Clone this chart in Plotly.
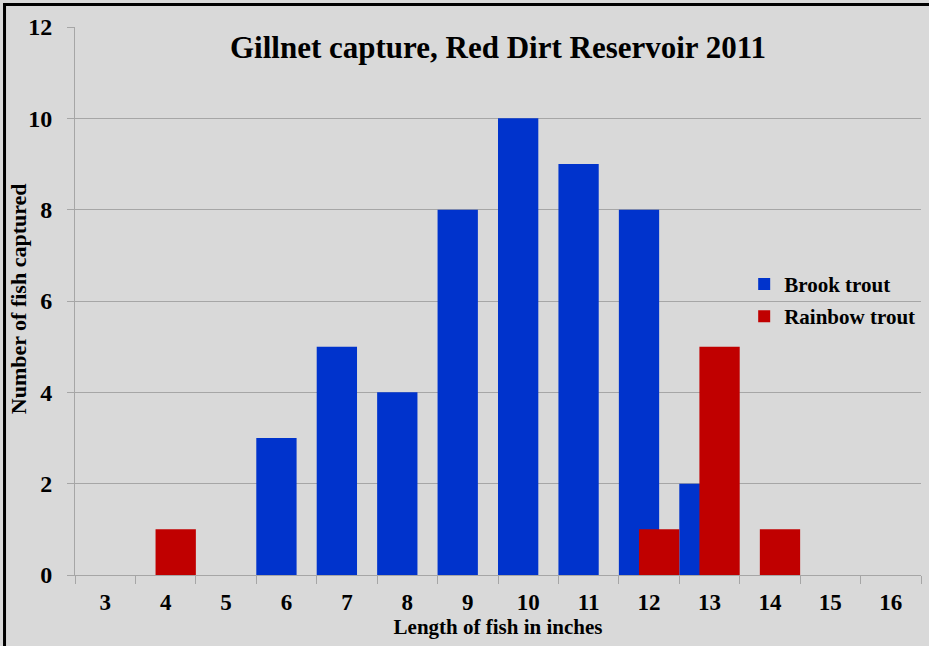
import plotly.graph_objects as go

lengths = ["3", "4", "5", "6", "7", "8", "9", "10", "11", "12", "13", "14", "15", "16"]
brook = [0, 0, 0, 3, 5, 4, 8, 10, 9, 8, 2, 0, 0, 0]
rainbow = [0, 1, 0, 0, 0, 0, 0, 0, 0, 1, 5, 1, 0, 0]

FONT = "Liberation Serif"
BG = "#d9d9d9"
GRID = "#a6a6a6"

fig = go.Figure()
fig.add_trace(go.Bar(
    x=lengths, y=brook, name="Brook trout",
    marker=dict(color="#0033cc", line=dict(width=0)),
    offset=-0.5, width=0.667, legendgroup="a",
))
fig.add_trace(go.Bar(
    x=lengths, y=rainbow, name="Rainbow trout",
    marker=dict(color="#c00000", line=dict(width=0)),
    offset=-0.167, width=0.667, legendgroup="b",
))

fig.update_layout(
    width=929, height=646,
    margin=dict(l=75, r=8, t=27, b=71),
    paper_bgcolor=BG, plot_bgcolor=BG,
    barmode="overlay",
    font=dict(family=FONT, color="black"),
    showlegend=True,
    legend=dict(
        x=0.791, y=0.568, xanchor="left", yanchor="top",
        bgcolor="rgba(0,0,0,0)",
        font=dict(family=FONT, size=21, color="black", weight="bold"),
        traceorder="grouped", tracegroupgap=2,
        itemwidth=30,
    ),
    annotations=[
        dict(
            text="<b>Gillnet capture, Red Dirt Reservoir 2011</b>",
            xref="paper", yref="paper", x=0.5, y=0.963,
            xanchor="center", yanchor="middle", showarrow=False,
            font=dict(family=FONT, size=31, color="black"),
        ),
        dict(
            text="<b>Number of fish captured</b>",
            xref="paper", yref="paper", x=-0.0674, y=0.505,
            xanchor="center", yanchor="middle", showarrow=False,
            textangle=-90,
            font=dict(family=FONT, size=22, color="black"),
        ),
    ],
    shapes=[dict(
        type="path", xref="paper", yref="paper",
        path="M -0.0833,-0.2 L -0.0833,1.041 L 1.02,1.041",
        line=dict(color="black", width=3),
    )],
)

fig.update_xaxes(
    type="category",
    tickson="boundaries",
    ticks="outside", ticklen=8, tickcolor=GRID, tickwidth=1,
    showline=True, linecolor=GRID, linewidth=1,
    showgrid=False,
    tickfont=dict(family=FONT, size=23, color="black", weight="bold"),
    ticklabelstandoff=6,
    title=dict(text="<b>Length of fish in inches</b>",
               font=dict(family=FONT, size=21, color="black"), standoff=2),
)
fig.update_yaxes(
    range=[0, 12], dtick=2,
    ticks="outside", ticklen=7, tickcolor=GRID, tickwidth=1,
    showline=True, linecolor=GRID, linewidth=1,
    showgrid=True, gridcolor=GRID, gridwidth=1,
    zeroline=False,
    tickfont=dict(family=FONT, size=24, color="black", weight="bold"),
    ticklabelstandoff=10,
)

fig.write_html(
    "out.html",
    config={"displayModeBar": False},
    post_script="document.body.style.margin='0';document.body.style.overflow='hidden';",
)
